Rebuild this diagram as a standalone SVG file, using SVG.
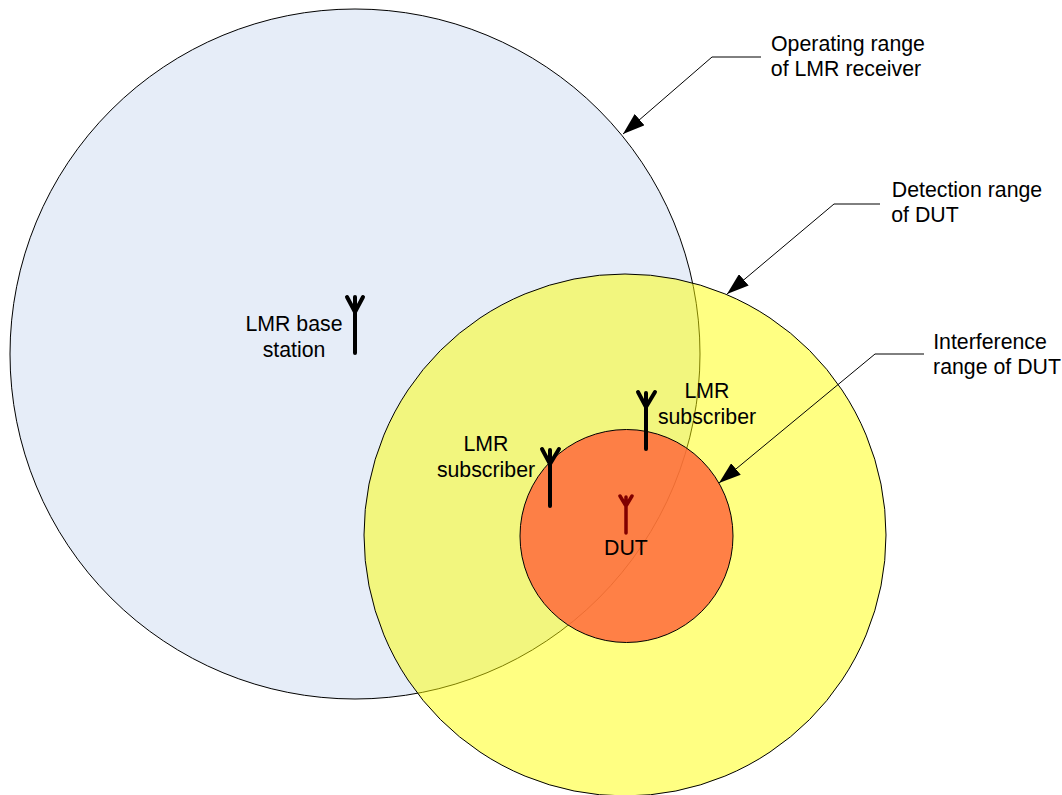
<svg xmlns="http://www.w3.org/2000/svg" width="1062" height="795" viewBox="0 0 1062 795">
<defs>
<style>
text{font-family:"Liberation Sans",Arial,sans-serif;font-size:21.3px;fill:#000;text-anchor:middle}
.c{stroke:#000;stroke-width:1}
.a{fill:none;stroke:#000;stroke-width:4;stroke-linecap:round;stroke-linejoin:round}
.d{fill:none;stroke:#800000;stroke-width:3.5;stroke-linecap:round;stroke-linejoin:round}
.l{fill:none;stroke:#000;stroke-width:1}
</style>
<marker id="arrow" viewBox="0 0 22 15" refX="22" refY="7.5" markerWidth="22" markerHeight="15" markerUnits="userSpaceOnUse" orient="auto"><path d="M0 0L22 7.5L0 15Z" fill="#000"/></marker>
</defs>
<g id="operating-range"><circle class="c" cx="355" cy="354" r="345" fill="#e6edf8"/></g>
<g id="detection-range"><circle class="c" cx="625" cy="535" r="261" fill="#ffff00" fill-opacity=".49"/></g>
<g id="interference-range"><circle class="c" cx="626.5" cy="536" r="106.5" fill="#ff6a3c" fill-opacity=".85"/></g>
<g id="base-station">
<path class="a" d="M355 353V297M347 297L355 312L363 297"/>
<text x="294" y="331">LMR base</text><text x="294" y="357">station</text>
</g>
<g id="subscriber-1">
<path class="a" d="M646 449V393M638 392L646 407L655 392"/>
<text x="707" y="398">LMR</text><text x="707" y="424">subscriber</text>
</g>
<g id="subscriber-2">
<path class="a" d="M550 506V450M542 449L550 464L559 449"/>
<text x="486" y="451">LMR</text><text x="486" y="477">subscriber</text>
</g>
<g id="dut">
<path class="d" d="M626 533V497M620 496L626 506L632 496"/>
<text x="626" y="555">DUT</text>
</g>
<g id="label-operating"><text x="848" y="51">Operating range</text><text x="846" y="76">of LMR receiver</text></g>
<g id="label-detection"><text x="967" y="197">Detection range</text><text x="925" y="222">of DUT</text></g>
<g id="label-interference"><text x="990" y="349">Interference</text><text x="997" y="374">range of DUT</text></g>
<g id="connectors">
<path class="l" d="M761 57H712L623 134" marker-end="url(#arrow)"/>
<path class="l" d="M880 204H834L727 294" marker-end="url(#arrow)"/>
<path class="l" d="M924 354H875L719 483" marker-end="url(#arrow)"/>
</g>
</svg>
